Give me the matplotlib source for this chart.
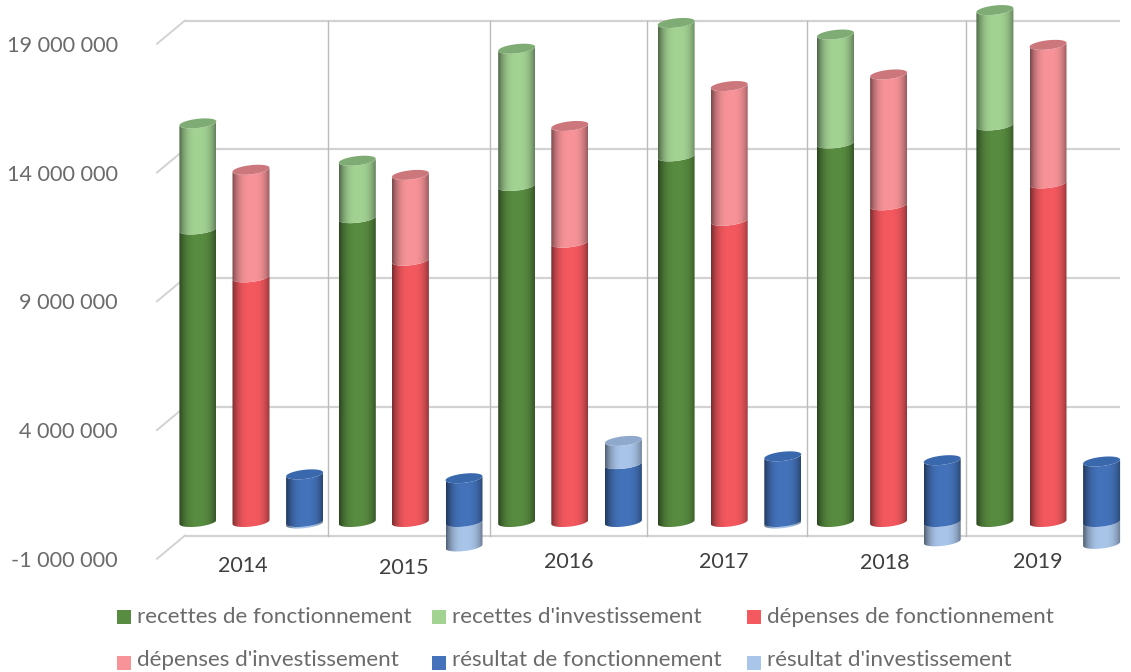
import numpy as np
import matplotlib
matplotlib.use('Agg')
import matplotlib.pyplot as plt
from matplotlib.patches import Rectangle
from matplotlib.path import Path
from matplotlib.transforms import ScaledTranslation
from matplotlib.colors import to_rgb

plt.rcParams['font.family'] = ['Lato', 'DejaVu Sans']

years = ['2014', '2015', '2016', '2017', '2018', '2019']
recettes_fonct = [11.36e6, 11.80e6, 13.05e6, 14.20e6, 14.70e6, 15.40e6]
recettes_inv = [4.12e6, 2.23e6, 5.33e6, 5.18e6, 4.23e6, 4.48e6]
depenses_fonct = [9.50e6, 10.15e6, 10.85e6, 11.70e6, 12.30e6, 13.15e6]
depenses_inv = [4.18e6, 3.33e6, 4.53e6, 5.23e6, 5.08e6, 5.38e6]
resultat_fonct = [1.85e6, 1.70e6, 2.25e6, 2.55e6, 2.40e6, 2.35e6]
resultat_inv = [-0.06e6, -0.95e6, 0.90e6, -0.06e6, -0.75e6, -0.85e6]

y_ticks = [-1000000, 4000000, 9000000, 14000000, 19000000]
y_labels = ['-1 000 000', '4 000 000', '9 000 000', '14 000 000', '19 000 000']

names = ["recettes de fonctionnement", "recettes d'investissement", "dépenses de fonctionnement",
         "dépenses d'investissement", "résultat de fonctionnement", "résultat d'investissement"]
colors = ['#588c40', '#a3d393', '#f4595f', '#f89499', '#4473bb', '#a9c5e9']
caps = ['#4a7a35', '#7fac74', '#d9484e', '#cc777c', '#3a68ad', '#8fa9cc']

# layout, pixels
W, H = 1131, 672
X0, DX = 251.0, 159.4
Y0, DY = 522.0, 25.75
BACK = 12.25
BAR_W = 37.0
GAP = 53.1
year_dy = [44, 46, 40, 40, 41, 40]
year_dx = [-8, -7, -1, -5, -4, -10]
vline_dx = [-3, 0, -3, -2, -2]

fig = plt.figure(figsize=(W / 100, H / 100), dpi=100)
ax = fig.add_axes([0, 0, 1, 1])

ux = 1.0 / DX
uy = 1e6 / DY


def shift(dx, dy):
    # offset in screen pixels (y down)
    return ax.transData + ScaledTranslation(dx / 100, -dy / 100, fig.dpi_scale_trans)


def arc(xc, v, start, stop):
    t = np.linspace(start, stop, 40)
    x = xc + (BAR_W / 2) * np.cos(t) * ux
    y = v + (4.6 * np.sin(t) + 2.0 * np.cos(t)) * uy
    return np.column_stack([x, y])


def cylinder(xc, v0, v1, col, cap=None, z=3):
    # side surface between two levels, front arcs only
    low = arc(xc, v0, np.pi, 2 * np.pi)
    high = arc(xc, v1, 2 * np.pi, np.pi)
    pts = np.vstack([low, high, low[:1]])
    u = np.linspace(-1, 1, 80)
    shade = 1 - 0.45 * np.abs(u - 0.05) ** 2.8
    rgb = np.array(to_rgb(col))
    img = np.clip(shade[None, :, None] * rgb[None, None, :], 0, 1)
    top = max(v0, v1) + 6 * uy
    bot = min(v0, v1) - 6 * uy
    im = ax.imshow(img, extent=[xc - BAR_W / 2 * ux, xc + BAR_W / 2 * ux, bot, top],
                   aspect='auto', zorder=z, interpolation='bilinear')
    im.set_clip_path(Path(pts), ax.transData)
    if cap is not None:
        e = arc(xc, v1, 0, 2 * np.pi)
        ax.fill(e[:, 0], e[:, 1], color=cap, zorder=z, lw=0)


# back wall
grid = '#d2d2d2'
for v in y_ticks:
    ax.plot([(185 - X0) / DX, (1120 - X0) / DX], [v, v], color=grid, lw=1.6,
            transform=shift(0, -BACK), zorder=1, solid_capstyle='butt')
    ax.plot([(157 - X0) / DX, (185 - X0) / DX], [v - 11 * uy, v + BACK * uy], color=grid, lw=1.4, zorder=1)
for i in range(len(years) - 1):
    ax.plot([i + 0.5, i + 0.5], [y_ticks[0], y_ticks[-1]], color='#bcbcbc', lw=1.0,
            transform=shift(vline_dx[i], -BACK), zorder=1)

for i in range(len(years)):
    xa = i - GAP / DX
    xb = float(i)
    xc = i + GAP / DX + 0.5 / DX
    z = 3 + i

    cylinder(xa, 0, recettes_fonct[i], colors[0], z=z)
    cylinder(xa, recettes_fonct[i], recettes_fonct[i] + recettes_inv[i], colors[1], caps[1], z=z)

    cylinder(xb, 0, depenses_fonct[i], colors[2], z=z)
    cylinder(xb, depenses_fonct[i], depenses_fonct[i] + depenses_inv[i], colors[3], caps[3], z=z)

    if resultat_inv[i] < 0:
        cylinder(xc, resultat_inv[i], 0, colors[5], z=z)
        cylinder(xc, 0, resultat_fonct[i], colors[4], caps[4], z=z)
    else:
        cylinder(xc, 0, resultat_fonct[i], colors[4], z=z)
        cylinder(xc, resultat_fonct[i], resultat_fonct[i] + resultat_inv[i], colors[5], caps[5], z=z)

ax.set_xlim((0 - X0) / DX, (W - X0) / DX)
ax.set_ylim((Y0 - H) / DY * 1e6, Y0 / DY * 1e6)
ax.axis('off')

# tick labels
text_col = '#6b6b6b'
for v, s in zip(y_ticks, y_labels):
    ax.text((118 - X0) / DX, v, s, ha='right', va='center', fontsize=15.6, color=text_col,
            transform=shift(0, 13.2))
for i, y in enumerate(years):
    ax.text(i, 0, y, ha='center', va='center', fontsize=15.5, color='#3f3f3f',
            transform=shift(year_dx[i], year_dy[i]))

# legend
leg_x = [117, 432, 747, 117, 432, 747]
leg_y = [617, 617, 617, 663, 663, 663]
leg_base = [623, 623, 623, 666.5, 666.5, 666.5]
for n, c, lx, ly, lb in zip(names, colors, leg_x, leg_y, leg_base):
    fig.add_artist(Rectangle((lx / W, 1 - (ly + 7) / H), 14 / W, 14 / H, transform=fig.transFigure,
                             facecolor=c, edgecolor='none'))
    fig.text((lx + 20) / W, 1 - lb / H, n, ha='left', va='baseline', fontsize=16.2, color=text_col)

fig.savefig('out.png', dpi=100)
